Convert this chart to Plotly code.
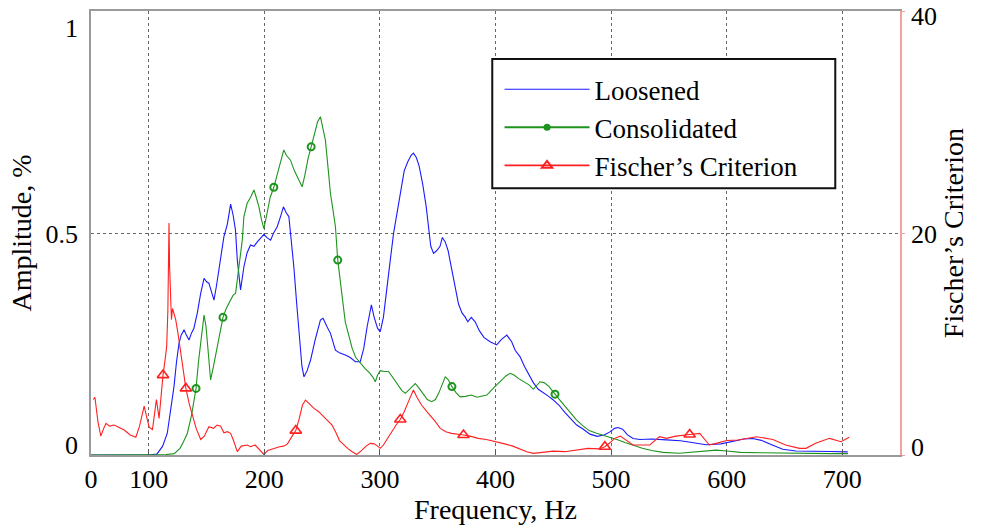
import plotly.graph_objects as go

# ---------------- data ----------------
LOOSE_F = [50, 60, 80, 100, 107, 112, 116, 119, 121.8, 124, 126.2, 128, 130.5, 132.5, 134.8, 137, 139, 142,
           144.9, 147.8, 150, 152, 154, 156.4, 158.5, 160.7, 163, 165, 168, 170.8, 173, 175, 176.6, 178, 179.4,
           182.3, 185, 188, 191, 193.9, 197, 199.6, 202, 205.4, 208, 211.1, 214, 216.5, 219, 221.2, 223, 225.5,
           228, 230.5, 232.5, 234.3, 237, 240, 244, 248.5, 250.8, 254, 257.2, 261.5, 265, 270, 274, 278.8, 283,
           286, 289, 292.6, 295, 298, 300.3, 303, 306, 309, 311.8, 315, 318, 321, 324, 327, 329, 331.5, 334, 337,
           340, 342, 344, 346.4, 349, 352, 354, 356.5, 359, 362, 365, 368, 371, 373.7, 376, 379, 382.4, 386, 390,
           395.3, 401, 405, 409.8, 414, 417, 421.3, 425, 428, 432.7, 437, 442, 446, 450, 455, 460, 465, 470, 476,
           481.7, 488, 494, 499, 503, 506, 510, 514, 519, 525, 535, 548, 560, 570, 582, 595, 605, 615, 622.7, 630,
           640, 648.6, 660, 675, 690, 704.8]
LOOSE_A = [0, 0, 0, 0, 0.002, 0.02, 0.049, 0.10, 0.154, 0.21, 0.252, 0.27, 0.282, 0.27, 0.259, 0.275, 0.285, 0.32,
           0.364, 0.398, 0.39, 0.387, 0.37, 0.349, 0.38, 0.417, 0.46, 0.492, 0.52, 0.565, 0.54, 0.507, 0.439, 0.40,
           0.372, 0.424, 0.455, 0.473, 0.47, 0.48, 0.49, 0.497, 0.49, 0.484, 0.50, 0.514, 0.537, 0.559, 0.545, 0.537,
           0.49, 0.424, 0.34, 0.26, 0.20, 0.176, 0.19, 0.214, 0.26, 0.304, 0.308, 0.29, 0.274, 0.236, 0.23, 0.225,
           0.22, 0.21, 0.21, 0.24, 0.29, 0.338, 0.31, 0.285, 0.278, 0.31, 0.38, 0.44, 0.499, 0.55, 0.60, 0.64, 0.66,
           0.675, 0.68, 0.67, 0.65, 0.61, 0.56, 0.52, 0.47, 0.454, 0.46, 0.47, 0.49, 0.48, 0.46, 0.42, 0.38, 0.34,
           0.32, 0.311, 0.30, 0.31, 0.30, 0.28, 0.265, 0.255, 0.248, 0.26, 0.27, 0.255, 0.236, 0.221, 0.20, 0.185,
           0.163, 0.148, 0.14, 0.132, 0.124, 0.112, 0.096, 0.082, 0.068, 0.058, 0.047, 0.042, 0.045, 0.052, 0.06,
           0.062, 0.058, 0.046, 0.037, 0.035, 0.036, 0.034, 0.032, 0.028, 0.023, 0.025, 0.030, 0.036, 0.037, 0.033,
           0.022, 0.013, 0.009, 0.009, 0.008, 0.007]

CONS_F = [50, 100, 115, 122, 127, 130, 133.4, 137, 140.9, 143, 145, 147.8, 149.5, 151.5, 153.5, 156, 159.3, 162,
          164.2, 167, 170.8, 173, 175.1, 178, 180.9, 182.3, 185.1, 188, 191, 193, 195.3, 197.5, 199.6, 202, 205,
          208.2, 211, 214, 216.8, 219, 222.6, 226, 229.5, 232.7, 235, 238, 240.5, 243, 246, 248.5, 250.5, 252.8,
          255, 257.2, 259.5, 261.5, 263.5, 266, 268, 270, 273, 276, 279, 283, 287, 291, 294, 296, 298, 300.3, 304,
          307.5, 311, 315, 319, 322, 326, 330.6, 334, 338, 341, 344.8, 348, 351, 354, 356.5, 359, 362.3, 366,
          369.4, 374, 379, 384, 388, 392.5, 398, 404, 409, 412.6, 416, 420, 425, 429, 432.7, 435, 438.5, 442, 446,
          451.5, 455, 460, 465, 470, 476, 481, 487.5, 493, 499, 505, 512, 519, 527, 535, 545, 559, 570, 580, 591,
          600, 612, 630, 650, 670, 690, 705]
CONS_A = [0, 0, 0.001, 0.003, 0.015, 0.03, 0.049, 0.09, 0.15, 0.21, 0.259, 0.315, 0.29, 0.22, 0.169, 0.20, 0.244,
          0.28, 0.31, 0.33, 0.349, 0.36, 0.364, 0.424, 0.484, 0.537, 0.567, 0.58, 0.597, 0.58, 0.559, 0.53, 0.51,
          0.54, 0.58, 0.603, 0.63, 0.66, 0.687, 0.675, 0.664, 0.64, 0.62, 0.604, 0.63, 0.67, 0.694, 0.72, 0.75,
          0.762, 0.74, 0.709, 0.65, 0.589, 0.55, 0.514, 0.439, 0.39, 0.34, 0.30, 0.27, 0.24, 0.22, 0.207, 0.195,
          0.185, 0.175, 0.165, 0.18, 0.19, 0.188, 0.188, 0.175, 0.158, 0.145, 0.139, 0.15, 0.161, 0.15, 0.135,
          0.125, 0.12, 0.125, 0.14, 0.16, 0.176, 0.17, 0.154, 0.14, 0.131, 0.132, 0.135, 0.13, 0.133, 0.135, 0.15,
          0.165, 0.178, 0.184, 0.18, 0.172, 0.165, 0.158, 0.148, 0.155, 0.165, 0.163, 0.155, 0.137, 0.125, 0.11,
          0.095, 0.079, 0.065, 0.055, 0.049, 0.045, 0.041, 0.035, 0.028, 0.022, 0.015, 0.010, 0.006, 0.004, 0.006,
          0.009, 0.011, 0.009, 0.006, 0.005, 0.004, 0.004, 0.003, 0.003]

FISCH_F = [52, 53.4, 56, 58.5, 61, 63, 66, 70, 74, 78.7, 84, 88.8, 92, 94, 96, 98, 100.3, 103.2, 106.6, 108.9,
           110.5, 112.3, 114, 115.5, 116.5, 117.5, 118, 118.4, 119, 119.6, 120.5, 121.3, 122.3, 123.3, 125.5,
           127.6, 130, 132.1, 135, 137.6, 141, 144.9, 148, 152, 156, 159, 162.2, 165, 168, 170.8, 173, 176.6, 180,
           185.2, 188, 192, 196, 199.6, 203, 208, 213, 216.8, 220, 224, 227.2, 230, 233, 235.6, 239, 243, 247,
           251.4, 255, 258.6, 262, 265, 268, 272, 276, 280, 284, 288, 291.7, 295, 298, 300.3, 303, 307, 311, 314,
           317.6, 321, 325, 329, 332, 336, 340.6, 344, 348, 352.2, 357, 362, 367, 372.3, 378, 385, 392, 401, 408,
           415, 422, 427, 432.7, 440, 450, 460, 470, 480, 490, 494.6, 499, 503, 508, 513, 519, 526, 533.5, 542,
           548, 556, 562, 568, 576.7, 585, 591, 600, 610, 625.6, 640, 651, 663, 668.7, 677, 689, 699, 706]
FISCH_V = [5.0, 5.2, 3.0, 1.7, 2.4, 2.85, 2.6, 2.7, 2.5, 2.25, 1.8, 1.6, 2.6, 3.5, 4.4, 3.5, 2.5, 2.3, 5.0, 3.3,
           5.5, 7.2, 8.5, 9.8, 13.0, 20.9, 17.0, 15.8, 13.5, 12.2, 13.2, 12.9, 12.5, 12.2, 10.8, 9.2, 7.5, 6.0,
           4.6, 3.6, 2.4, 1.4, 1.7, 2.55, 2.4, 2.7, 2.6, 2.0, 2.1, 1.95, 1.4, 0.3, 0.8, 0.9, 0.75, 0.9, 0.5, 0.05,
           0.4, 0.6, 0.75, 0.8, 1.0, 1.7, 2.2, 3.2, 4.5, 4.95, 4.6, 4.2, 3.9, 3.45, 3.0, 2.7, 2.0, 1.3, 1.0, 0.6,
           0.3, 0.05, 0.4, 0.8, 1.05, 1.0, 0.8, 0.6, 0.9, 1.6, 2.2, 2.7, 3.2, 3.9, 4.9, 5.86, 5.2, 4.5, 3.9, 3.5,
           3.0, 2.4, 2.1, 1.95, 1.85, 1.8, 1.7, 1.5, 1.4, 1.2, 1.0, 0.8, 0.5, 0.3, 0.15, 0.25, 0.35, 0.3, 0.45,
           0.6, 0.55, 0.75, 1.1, 1.5, 1.7, 1.3, 0.9, 0.9, 0.9, 1.65, 1.5, 1.7, 1.8, 1.85, 1.95, 0.9, 1.05, 1.3,
           1.35, 1.65, 1.4, 0.9, 0.6, 0.6, 1.05, 1.5, 1.2, 1.6]

# frequencies where the curve markers sit
CONS_MARK_F = [140.9, 164.2, 208.2, 240.5, 263.5, 362.3, 451.5]
FISCH_MARK_F = [112.3, 132.1, 227.2, 317.6, 372.3, 494.6, 568]

X_TICKS = [50, 100, 200, 300, 400, 500, 600, 700]
X_TICK_TEXT = ["0", "100", "200", "300", "400", "500", "600", "700"]
Y_TICKS = [0, 0.5, 1]
Y_TICK_TEXT = ["0", "0.5", "1"]
Y2_TICKS = [0, 20, 40]
Y2_TICK_TEXT = ["0", "20", "40"]

NAMES = ["Loosened", "Consolidated", "Fischer\u2019s Criterion"]

# ---------------- styles ----------------
BLUE = "#1a1aff"
GREEN = "#1e941e"
RED = "#ff2020"
FONT = "Liberation Serif"
# label placement inside the frame (the original prints its end labels inward)
Y_LABEL_POS = [0.022, 0.497, 0.963]
Y2_LABEL_POS = [0.7, 19.9, 39.6]

cons_lookup = dict(zip(CONS_F, CONS_A))
fisch_lookup = dict(zip(FISCH_F, FISCH_V))

fig = go.Figure()

fig.add_trace(go.Scatter(x=LOOSE_F, y=LOOSE_A, mode="lines", name=NAMES[0],
                         line=dict(color=BLUE, width=1.1), showlegend=True))
fig.add_trace(go.Scatter(x=CONS_F, y=CONS_A, mode="lines", name=NAMES[1],
                         line=dict(color=GREEN, width=1.1), showlegend=False))
fig.add_trace(go.Scatter(x=CONS_MARK_F, y=[cons_lookup[f] for f in CONS_MARK_F], mode="markers",
                         marker=dict(symbol="circle-open", size=7, color=GREEN, line=dict(width=2)),
                         showlegend=False, hoverinfo="skip"))
fig.add_trace(go.Scatter(x=FISCH_F, y=FISCH_V, mode="lines", name=NAMES[2], yaxis="y2",
                         line=dict(color=RED, width=1.1), showlegend=False))
fig.add_trace(go.Scatter(x=FISCH_MARK_F, y=[fisch_lookup[f] for f in FISCH_MARK_F], mode="markers",
                         yaxis="y2",
                         marker=dict(symbol="triangle-up-open", size=10, color=RED, line=dict(width=1.6)),
                         showlegend=False, hoverinfo="skip"))
# legend entries with line + marker
fig.add_trace(go.Scatter(x=[None], y=[None], mode="lines+markers", name=NAMES[1],
                         line=dict(color=GREEN, width=2),
                         marker=dict(symbol="circle", size=7, color=GREEN)))
fig.add_trace(go.Scatter(x=[None], y=[None], mode="lines+markers", name=NAMES[2],
                         line=dict(color=RED, width=1.6),
                         marker=dict(symbol="triangle-up-open", size=9, color=RED, line=dict(width=2))))
# carriers for the label-only axes
fig.add_trace(go.Scatter(x=[None], y=[None], yaxis="y3", showlegend=False, hoverinfo="skip"))
fig.add_trace(go.Scatter(x=[None], y=[None], yaxis="y4", showlegend=False, hoverinfo="skip"))

# plot frame: x 91..900, y 11..455
fig.update_layout(
    width=982, height=526,
    margin=dict(l=91, r=82, t=11, b=71, autoexpand=False),
    paper_bgcolor="white", plot_bgcolor="white",
    font=dict(family=FONT, size=26, color="black"),
    showlegend=True,
    legend=dict(x=0.505, y=0.878, xanchor="left", yanchor="top",
                bgcolor="rgba(0,0,0,0)", borderwidth=0,
                font=dict(family=FONT, size=27, color="black"),
                itemwidth=85, tracegroupgap=0),
    xaxis=dict(range=[50, 750], tickvals=X_TICKS, ticktext=X_TICK_TEXT, automargin=False,
               showgrid=True, gridcolor="#666666", griddash="dot", gridwidth=1,
               showline=True, linecolor="#9a9a9a", linewidth=1.5, mirror=True,
               ticks="inside", ticklen=5, tickcolor="#555555",
               zeroline=False, ticklabelstandoff=0,
               title=dict(text="Frequency, Hz", font=dict(size=28), standoff=3)),
    yaxis=dict(range=[0, 1], tickvals=Y_TICKS, showticklabels=False, automargin=False,
               showgrid=True, gridcolor="#666666", griddash="dot", gridwidth=1,
               showline=True, linecolor="#9a9a9a", linewidth=1.5,
               ticks="", zeroline=False,
               title=dict(text="Amplitude, %", font=dict(size=28), standoff=49)),
    yaxis3=dict(range=[0, 1], tickvals=Y_LABEL_POS, ticktext=Y_TICK_TEXT, overlaying="y", side="left",
                automargin=False, showgrid=False, showline=False, zeroline=False, ticks="",
                ticklabelstandoff=12),
    yaxis2=dict(range=[0, 40], tickvals=Y2_TICKS, showticklabels=False, overlaying="y", side="right",
                automargin=False,
                showgrid=False, showline=True, linecolor="#f2a0a0", linewidth=1.5,
                ticks="outside", ticklen=3, tickcolor="#f2a0a0", zeroline=False,
                title=dict(text="Fischer\u2019s Criterion", font=dict(size=28), standoff=40)),
    yaxis4=dict(range=[0, 40], tickvals=Y2_LABEL_POS, ticktext=Y2_TICK_TEXT, overlaying="y", side="right",
                automargin=False, showgrid=False, showline=False, zeroline=False, ticks="",
                ticklabelstandoff=10),
    shapes=[dict(type="rect", xref="paper", yref="paper",
                 x0=0.496, x1=0.92, y0=0.601, y1=0.892,
                 line=dict(color="#111111", width=2), fillcolor="white", layer="above")],
)

fig.write_html("out.html", config={"displayModeBar": False},
               post_script="document.body.style.margin='0';")
